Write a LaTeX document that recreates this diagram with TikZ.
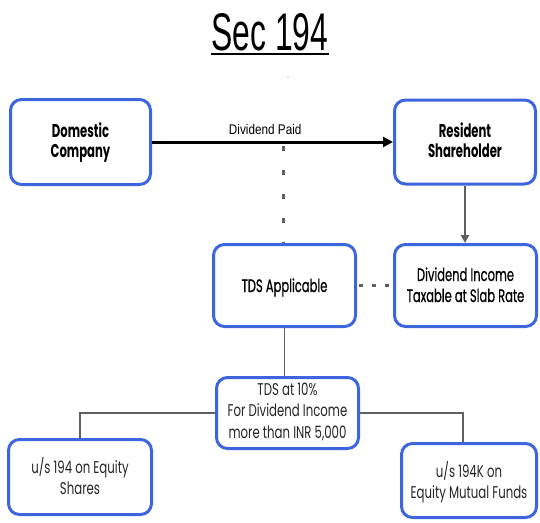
\documentclass[tikz,border=0pt]{standalone}
\usepackage{fontspec}
\usetikzlibrary{arrows.meta}
\newfontfamily\popbf[FakeStretch=0.63]{Poppins}
\newfontfamily\popmd[FakeStretch=0.64,FakeBold=0.6]{Poppins}
\newfontfamily\poplt[FakeStretch=0.69]{Poppins}
\newfontfamily\arnf[FakeStretch=0.84]{Liberation Sans}
\newfontfamily\ttlf[FakeStretch=0.6]{Liberation Sans}
\definecolor{boxblue}{RGB}{61,101,222}
\definecolor{linegray}{RGB}{95,95,95}
% centred lines whose baseline is the baseline of the first line
\newcommand\cardlines[1]{\begin{tabular}[t]{@{}c@{}}#1\end{tabular}}
\tikzset{
  card/.style={draw=boxblue, line width=3pt, rounded corners=11pt, fill=white, inner sep=0pt},
  cardtext/.style={anchor=base, inner sep=0pt},
  boldtxt/.style={cardtext, font=\popbf\bfseries\fontsize{18.5}{20.5}\selectfont},
  regtxt/.style={cardtext, font=\popmd\fontsize{18}{21}\selectfont},
  lighttxt/.style={cardtext, font=\poplt\fontsize{17}{21.5}\selectfont, text=black!85},
  conn/.style={draw=linegray, line width=1.5pt},
  dotline/.style={draw=linegray, line width=3pt},
}
\begin{document}
\begin{tikzpicture}[x=1pt,y=-1pt]
\useasboundingbox (0,0) rectangle (540,522);
% title
\node[font=\ttlf\fontsize{53}{53}\selectfont, inner sep=0pt, anchor=base] (title) at (270,50) {Sec 194};
\draw[line width=2pt] ([yshift=-3.5pt]title.base west) -- ([yshift=-3.5pt]title.base east);
\fill[gray] (288,77) circle (0.7pt);
% boxes
\node[card, minimum width=140pt, minimum height=85pt] (dc) at (80.5,142) {};
\node[card, minimum width=141pt, minimum height=84pt] (rs) at (465,142) {};
\node[card, minimum width=142pt, minimum height=82pt] (tds) at (284.5,285.5) {};
\node[card, minimum width=142pt, minimum height=82pt] (dit) at (465.5,285.5) {};
\node[card, minimum width=142pt, minimum height=71pt] (ten) at (287.5,413) {};
\node[card, minimum width=143pt, minimum height=75pt] (ues) at (80,477) {};
\node[card, minimum width=135pt, minimum height=74pt] (umf) at (469,480.5) {};
% texts
\node[boldtxt] (dct) at ([yshift=5pt]dc.center) {\cardlines{Domestic\\Company}};
\node[boldtxt] (rst) at ([yshift=5pt]rs.center) {\cardlines{Resident\\Shareholder}};
\node[regtxt] (tdst) at ([yshift=-6.5pt]tds.center) {\cardlines{TDS Applicable}};
\node[regtxt] (ditt) at ([yshift=4.5pt]dit.center) {\cardlines{Dividend Income\\Taxable at Slab Rate}};
\node[lighttxt] (tent) at ([yshift=18pt]ten.center) {\cardlines{TDS at 10\%\\For Dividend Income\\more than INR 5,000}};
\node[lighttxt] (uest) at ([yshift=4pt]ues.center) {\cardlines{u/s 194 on Equity\\Shares}};
\node[lighttxt] (umft) at ([yshift=3.5pt]umf.center) {\cardlines{u/s 194K on\\Equity Mutual Funds}};
% main arrow
\draw[line width=3pt, -{Triangle[length=10pt,width=10pt]}] (dc) -- node[above=3pt, font=\arnf\fontsize{14}{15}\selectfont, pos=0.47] (dp) {Dividend Paid} (rs);
% dotted vertical from arrow to TDS Applicable
\coordinate (p) at (283,143);
\draw[dotline, dash pattern=on 5pt off 19pt, dash phase=21.5pt] (p) -- (p |- tds.north);
% dotted horizontal between TDS and Dividend Income
\draw[dotline, dash pattern=on 4pt off 9pt, dash phase=11pt] (tds.east) -- (dit.west);
% resident down arrow
\draw[draw=linegray, line width=2pt, -{Triangle[length=8pt,width=8pt]}] (rs.south) -- (rs.south |- dit.north);
% TDS Applicable to TDS at 10%
\draw[conn] (tds.south) -- (tds.south |- ten.north);
% branches
\draw[conn] (ten.west) -| (ues.north);
\draw[conn] (ten.east) -| ([xshift=-6pt]umf.north);
\end{tikzpicture}
\end{document}
